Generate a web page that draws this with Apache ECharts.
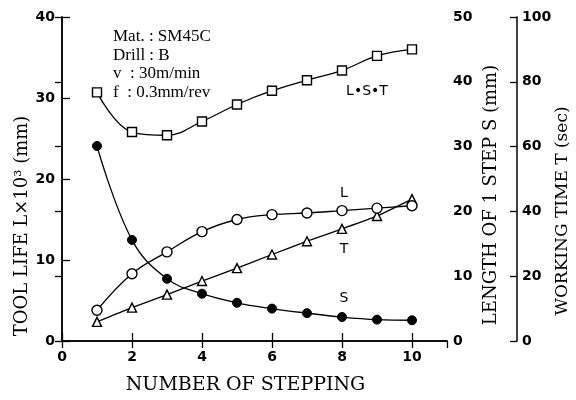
<!DOCTYPE html>
<html><head><meta charset="utf-8">
<script src="https://cdn.jsdelivr.net/npm/echarts@6/dist/echarts.min.js"></script>
<style>html,body{margin:0;padding:0;background:#fff}#c{width:576px;height:400px}</style>
</head><body><div id="c"></div>
<script>
const steps = [1, 2, 3, 4, 5, 6, 7, 8, 9, 10];
const toolLifeL = [3.8, 8.3, 11.0, 13.5, 15.0, 15.6, 15.8, 16.1, 16.4, 16.7];      // ×10³ mm (left axis)
const stepLengthS = [30.1, 15.6, 9.6, 7.3, 5.9, 5.0, 4.3, 3.7, 3.3, 3.2];          // mm (S axis)
const workingTimeT = [5.9, 10.3, 14.3, 18.5, 22.5, 26.7, 30.8, 34.6, 38.6, 43.8];   // sec (T axis)
const productLST = [30.7, 25.8, 25.4, 27.1, 29.2, 30.9, 32.2, 33.4, 35.2, 36.0];   // left axis scale
const xTickLabels = [0, 2, 4, 6, 8, 10];
const infoLines = ['Mat. : SM45C', 'Drill : B', 'v  : 30m/min', 'f  : 0.3mm/rev'];
const labelIndex = 7; // curve labels placed near step 8

const tickFont = { fontFamily: 'DejaVu Sans', fontWeight: 'bold', fontSize: 14, color: '#000' };
const serif = 'DejaVu Serif';

function mk(vals, text, offset) {
  return steps.map((x, i) => {
    const item = { value: [x, vals[i]] };
    if (i === labelIndex) {
      item.label = { show: true, position: 'inside', formatter: text, offset: offset,
        fontFamily: 'DejaVu Sans', fontSize: 14, color: '#000' };
    }
    return item;
  });
}

const lineStyle = { color: '#000', width: 1.3 };
const openItem = { color: '#fff', borderColor: '#000', borderWidth: 1.4 };

const chart = echarts.init(document.getElementById('c'), null, { renderer: 'canvas' });
chart.setOption({
  animation: false,
  backgroundColor: '#fff',
  grid: { left: 62, right: 129, top: 17, bottom: 47 },
  xAxis: [{
    type: 'value', min: 0, max: 11, interval: 2, position: 'bottom',
    axisLine: { lineStyle: { color: '#000', width: 1.5 } },
    axisTick: { inside: true, length: 8, lineStyle: { color: '#000', width: 1.3 } },
    axisLabel: Object.assign({ margin: 9, showMaxLabel: false }, tickFont),
    splitLine: { show: false },
    name: 'NUMBER OF STEPPING', nameLocation: 'middle', nameGap: 35,
    nameTextStyle: { fontFamily: serif, fontSize: 19, color: '#000', padding: [0, 18, 0, 0] }
  }, {
    type: 'value', min: 0, max: 11, interval: 2, position: 'top',
    axisLine: { lineStyle: { color: '#000', width: 1.5 } },
    axisTick: { inside: true, length: 7, lineStyle: { color: '#000', width: 1.3 } },
    axisLabel: { show: false },
    splitLine: { show: false }
  }],
  yAxis: [{
    type: 'value', min: 0, max: 40, interval: 10, position: 'left',
    axisLine: { show: true, lineStyle: { color: '#000', width: 1.5 } },
    axisTick: { show: true, inside: true, length: 8, lineStyle: { color: '#000', width: 1.3 } },
    axisLabel: Object.assign({ margin: 7 }, tickFont),
    splitLine: { show: false }
  }, {
    type: 'value', min: 0, max: 50, interval: 10, position: 'right',
    axisLine: { show: true, lineStyle: { color: '#000', width: 1.5 } },
    axisTick: { show: true, inside: true, length: 7, lineStyle: { color: '#000', width: 1.3 } },
    axisLabel: Object.assign({ margin: 6 }, tickFont),
    splitLine: { show: false }
  }, {
    type: 'value', min: 0, max: 100, interval: 20, position: 'right', offset: 70,
    axisLine: { show: true, lineStyle: { color: '#000', width: 1.5 } },
    axisTick: { show: true, inside: true, length: 7, lineStyle: { color: '#000', width: 1.3 } },
    axisLabel: Object.assign({ margin: 5 }, tickFont),
    splitLine: { show: false }
  }],
  series: [{
    name: 'L·S·T', type: 'line', yAxisIndex: 0, smooth: 0.4,
    symbol: 'rect', symbolSize: 9, lineStyle: lineStyle, itemStyle: openItem,
    data: mk(productLST, 'L•S•T', [25, 21]), z: 3
  }, {
    name: 'L', type: 'line', yAxisIndex: 0, smooth: 0.4,
    symbol: 'circle', symbolSize: 10, lineStyle: lineStyle, itemStyle: openItem,
    data: mk(toolLifeL, 'L', [2, -17]), z: 4
  }, {
    name: 'T', type: 'line', yAxisIndex: 2, smooth: 0.2,
    symbol: 'triangle', symbolSize: 9, lineStyle: lineStyle, itemStyle: openItem,
    data: mk(workingTimeT, 'T', [2, 20]), z: 3
  }, {
    name: 'S', type: 'line', yAxisIndex: 1, smooth: 0.4,
    symbol: 'circle', symbolSize: 9, lineStyle: lineStyle,
    itemStyle: { color: '#000', borderColor: '#000', borderWidth: 1 },
    data: mk(stepLengthS, 'S', [2, -19]), z: 3
  }],
  graphic: [{
    type: 'text', left: 113, top: 27,
    style: { text: infoLines.join('\n'), fontFamily: 'Liberation Serif', fontSize: 17, lineHeight: 18.7, fill: '#000' }
  }, {
    type: 'text', x: 22, y: 226, rotation: Math.PI / 2,
    style: { text: 'TOOL LIFE L×10³ (mm)', fontFamily: serif, fontSize: 18, fill: '#000', align: 'center', verticalAlign: 'middle' }
  }, {
    type: 'text', x: 491, y: 195, rotation: Math.PI / 2,
    style: { text: 'LENGTH OF 1 STEP S (mm)', fontFamily: serif, fontSize: 18, fill: '#000', align: 'center', verticalAlign: 'middle' }
  }, {
    type: 'text', x: 563, y: 211, rotation: Math.PI / 2,
    style: { text: 'WORKING TIME T (sec)', fontFamily: serif, fontSize: 17, fill: '#000', align: 'center', verticalAlign: 'middle' }
  }]
});
</script>
</body></html>
